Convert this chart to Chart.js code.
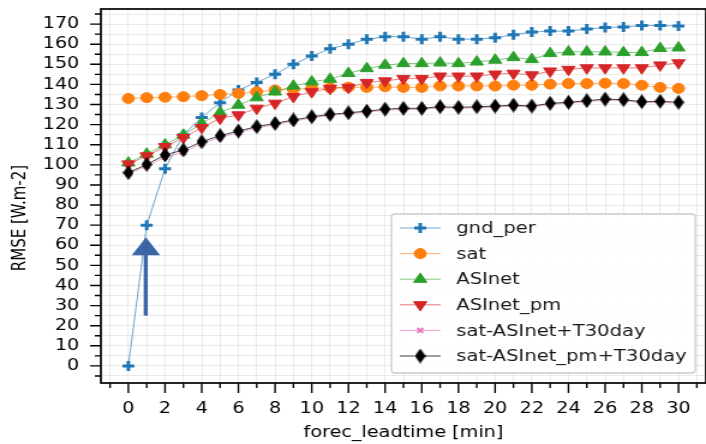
<!DOCTYPE html>
<html>
<head>
<meta charset="utf-8">
<script src="https://cdn.jsdelivr.net/npm/chart.js@4"></script>
<style>
html, body { margin: 0; padding: 0; background: #fff; }
/* the reference figure is stretched sideways, so the canvas is drawn narrow and widened by css */
#chart { display: block; width: 706px !important; height: 444px !important; }
</style>
</head>
<body>
<canvas id="chart" width="588" height="444" style="width:706px;height:444px"></canvas>
<script>
const leadTimes = [0, 1, 2, 3, 4, 5, 6, 7, 8, 9, 10, 11, 12, 13, 14, 15, 16, 17, 18, 19, 20, 21, 22, 23, 24, 25, 26, 27, 28, 29, 30];

const gndPer = [0, 70, 98, 115, 123.6, 130.9, 137.2, 141, 145.1, 150, 154.1, 157.7, 160, 162.4, 163.7, 163.7, 162.5, 163.7, 162.5, 162.5, 163.2, 164.7, 166, 166.5, 166.5, 167.5, 168.3, 168.6, 169.3, 169.3, 169];
const sat = [133, 133.4, 133.6, 133.9, 134.4, 135, 135.5, 136.3, 137.2, 137.6, 138, 138.3, 138.6, 138.5, 138.8, 138.5, 138.5, 139.2, 139.2, 139.2, 139.2, 139.6, 139.6, 140.1, 140.4, 140.4, 140.6, 140.4, 139.6, 138.5, 138];
const asinet = [101, 105.4, 110, 114.8, 120.6, 126, 129.7, 133.4, 136.3, 139.2, 141.3, 142.6, 145.5, 147.9, 149.6, 150.4, 150.4, 150.7, 150.4, 151.2, 152.1, 153.4, 152.4, 155.4, 156.2, 156.2, 156.2, 155.9, 155.9, 157.9, 158.2];
const asinetPm = [100.4, 104.4, 109, 113.5, 118.5, 123.1, 124.8, 128.1, 130.6, 133.9, 136.3, 138, 138.5, 140.9, 141.7, 142.9, 142.9, 144.1, 144.1, 144.1, 145.1, 145.5, 144.7, 146.6, 147.4, 148.2, 148.2, 148.2, 148.2, 149.6, 150.7];
const satAsinetT30 = [95.5, 99.4, 103.8, 106.2, 110.6, 113.6, 116, 118.3, 120, 121.7, 123.3, 124.6, 125.4, 126.2, 127.2, 127.6, 127.6, 128.4, 128.1, 128.4, 128.7, 129.2, 128.7, 130.1, 130.6, 131.4, 132.2, 131.9, 130.9, 131.1, 130.6];
const satAsinetPmT30 = [96.1, 100.2, 104.9, 107.4, 111.5, 114.5, 116.8, 119, 120.6, 122.3, 123.9, 125.1, 125.9, 126.7, 127.7, 128.1, 128.1, 128.9, 128.6, 128.9, 129.2, 129.7, 129.2, 130.6, 131.1, 131.9, 132.7, 132.4, 131.4, 131.6, 131.1];

const xTickLabels = [0, 2, 4, 6, 8, 10, 12, 14, 16, 18, 20, 22, 24, 26, 28, 30];
const yTickLabels = [0, 10, 20, 30, 40, 50, 60, 70, 80, 90, 100, 110, 120, 130, 140, 150, 160, 170];

// minor ticks / grid: every minute and every 5 W.m-2
const xMinorTicks = [];
for (let v = -1; v <= 31; v++) xMinorTicks.push(v);
const yMinorTicks = [];
for (let v = -5; v <= 175; v += 5) yMinorTicks.push(v);

const FONT = 'DejaVu Sans';
const Y_TITLE = 'RMSE [W.m-2]';

// thin black diamond like matplotlib 'd'
const diamond = document.createElement('canvas');
diamond.width = 9;
diamond.height = 15;
const dctx = diamond.getContext('2d');
dctx.fillStyle = '#000';
dctx.beginPath();
dctx.moveTo(4.5, 0);
dctx.lineTo(9, 7.5);
dctx.lineTo(4.5, 15);
dctx.lineTo(0, 7.5);
dctx.closePath();
dctx.fill();

const series = (label, data, color, lineColor, point, order) => ({
    label: label,
    data: data.map((y, i) => ({x: leadTimes[i], y: y})),
    borderColor: lineColor,
    borderWidth: 1,
    tension: 0,
    fill: false,
    pointStyle: point.style,
    pointRadius: point.radius,
    pointRotation: point.rotation || 0,
    pointBorderWidth: point.borderWidth,
    pointBackgroundColor: color,
    pointBorderColor: color,
    order: order
});

const datasets = [
    series('gnd_per', gndPer, '#1f77b4', 'rgba(31,119,180,0.65)', {style: 'cross', radius: 5, borderWidth: 3}, 6),
    series('sat', sat, '#ff7f0e', 'rgba(255,127,14,0.6)', {style: 'circle', radius: 5, borderWidth: 1}, 5),
    series('ASInet', asinet, '#2ca02c', 'rgba(44,160,44,0.6)', {style: 'triangle', radius: 6.3, borderWidth: 1}, 4),
    series('ASInet_pm', asinetPm, '#d62728', 'rgba(214,39,40,0.6)', {style: 'triangle', radius: 6.3, rotation: 180, borderWidth: 1}, 3),
    series('sat-ASInet+T30day', satAsinetT30, '#e377c2', 'rgba(227,119,194,0.7)', {style: 'crossRot', radius: 3.5, borderWidth: 2}, 2),
    series('sat-ASInet_pm+T30day', satAsinetPmT30, '#000000', 'rgba(0,0,0,0.75)', {style: diamond, radius: 7, borderWidth: 0}, 1)
];

const extras = {
    id: 'extras',
    afterDraw(chart) {
        const ctx = chart.ctx;
        const a = chart.chartArea;
        const xs = chart.scales.x;
        const ys = chart.scales.y;
        ctx.save();

        // tick marks, long on labelled ticks
        ctx.strokeStyle = '#000';
        ctx.lineWidth = 1.4;
        ctx.beginPath();
        xMinorTicks.forEach(v => {
            const p = xs.getPixelForValue(v);
            const len = xTickLabels.includes(v) ? 10 : 5;
            ctx.moveTo(p, a.bottom);
            ctx.lineTo(p, a.bottom + len);
        });
        yMinorTicks.forEach(v => {
            const p = ys.getPixelForValue(v);
            const len = yTickLabels.includes(v) ? 9 : 5;
            ctx.moveTo(a.left, p);
            ctx.lineTo(a.left - len, p);
        });
        ctx.stroke();

        // axes frame
        ctx.lineWidth = 1.7;
        ctx.strokeRect(a.left, a.top, a.right - a.left, a.bottom - a.top);

        // y title sits a bit below the axis middle in the reference
        ctx.save();
        ctx.translate(16.7, 218);
        ctx.rotate(-Math.PI / 2);
        ctx.font = '15px "' + FONT + '"';
        ctx.fillStyle = '#000';
        ctx.textAlign = 'center';
        ctx.textBaseline = 'middle';
        ctx.fillText(Y_TITLE, 0, 0);
        ctx.restore();

        // legend box in the lower right corner
        const w = 253, h = 159;
        const lx = a.right - 9 - w;
        const ly = a.bottom - 10 - h;
        ctx.beginPath();
        ctx.roundRect(lx, ly, w, h, 3);
        ctx.fillStyle = 'rgba(255,255,255,0.85)';
        ctx.fill();
        ctx.strokeStyle = '#cccccc';
        ctx.lineWidth = 1.3;
        ctx.stroke();

        ctx.font = '16.3px "' + FONT + '"';
        ctx.textBaseline = 'middle';
        ctx.textAlign = 'left';
        chart.data.datasets.forEach((ds, i) => {
            const y = ly + 14 + i * 25.6;
            ctx.strokeStyle = ds.borderColor;
            ctx.lineWidth = 1;
            ctx.beginPath();
            ctx.moveTo(lx + 7, y);
            ctx.lineTo(lx + 41, y);
            ctx.stroke();
            ctx.fillStyle = ds.pointBackgroundColor;
            ctx.strokeStyle = ds.pointBorderColor;
            ctx.lineWidth = ds.pointBorderWidth;
            Chart.helpers.drawPoint(ctx, {
                pointStyle: ds.pointStyle,
                rotation: ds.pointRotation,
                radius: ds.pointRadius,
                borderWidth: ds.pointBorderWidth
            }, lx + 24, y);
            ctx.fillStyle = '#1a1a1a';
            ctx.fillText(ds.label, lx + 54, y + 1);
        });

        // blue arrow pointing at the 1 min gnd_per value
        const ax = xs.getPixelForValue(0.96);
        const tipY = ys.getPixelForValue(64);
        const baseY = ys.getPixelForValue(55);
        const botY = ys.getPixelForValue(25);
        ctx.fillStyle = '#3b66a6';
        ctx.fillRect(ax - 1.9, baseY - 1, 3.4, botY - baseY + 1);
        ctx.beginPath();
        ctx.moveTo(ax, tipY);
        ctx.lineTo(ax + 11.8, baseY);
        ctx.lineTo(ax - 11.8, baseY);
        ctx.closePath();
        ctx.fill();

        ctx.restore();
    }
};

const tickFont = {family: FONT, size: 16};
const gridStyle = {color: 'rgba(0,0,0,0.08)', lineWidth: 1, drawTicks: false};

new Chart(document.getElementById('chart'), {
    type: 'line',
    data: {datasets: datasets},
    options: {
        responsive: false,
        animation: false,
        devicePixelRatio: 1,
        layout: {autoPadding: false, padding: {top: 9, left: 0, right: 0, bottom: 0}},
        plugins: {legend: {display: false}, tooltip: {enabled: false}},
        scales: {
            x: {
                type: 'linear',
                min: -1.5,
                max: 31.5,
                offset: false,
                afterBuildTicks: s => { s.ticks = xMinorTicks.map(v => ({value: v})); },
                afterFit: s => { s.height = 61; s.paddingLeft = 0; s.paddingRight = 0; },
                ticks: {
                    autoSkip: false,
                    maxRotation: 0,
                    minRotation: 0,
                    padding: 16,
                    color: '#000',
                    font: tickFont,
                    callback: v => xTickLabels.includes(v) ? String(v) : ''
                },
                grid: gridStyle,
                border: {display: false},
                title: {display: true, text: 'forec_leadtime [min]', color: '#000', font: tickFont, padding: {top: 0, bottom: 2}}
            },
            y: {
                type: 'linear',
                min: -8.5,
                max: 177.5,
                afterBuildTicks: s => { s.ticks = yMinorTicks.map(v => ({value: v})); },
                afterFit: s => { s.width = 84; s.paddingTop = 0; s.paddingBottom = 0; },
                ticks: {
                    autoSkip: false,
                    padding: 18,
                    color: '#000',
                    font: tickFont,
                    callback: v => yTickLabels.includes(v) ? String(v) : ''
                },
                grid: gridStyle,
                border: {display: false}
            }
        }
    },
    plugins: [extras]
});
</script>
</body>
</html>
